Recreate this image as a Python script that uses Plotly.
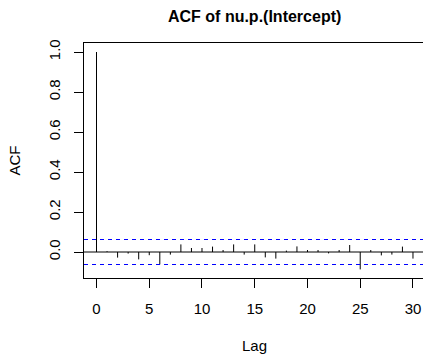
import plotly.graph_objects as go

lags = list(range(0, 31))
acf = [1.0, 0.004, -0.028, -0.008, -0.037, -0.016, -0.062, -0.013, 0.038, 0.02,
       0.02, 0.027, 0.01, 0.038, -0.013, 0.038, -0.027, -0.033, 0.007, 0.028,
       0.01, 0.01, -0.007, 0.01, 0.035, -0.087, 0.01, -0.017, -0.013, 0.027, -0.033]
ci = 0.0625
x_ticks = [0, 5, 10, 15, 20, 25, 30]
y_ticks = [0.0, 0.2, 0.4, 0.6, 0.8, 1.0]
y_ticktext = ["0.0", "0.2", "0.4", "0.6", "0.8", "1.0"]
title = "ACF of nu.p.(Intercept)"
xlab = "Lag"
ylab = "ACF"

FONT = "Liberation Sans, Arial, Helvetica, sans-serif"

xs, ys = [], []
for l, a in zip(lags, acf):
    xs += [l, l, None]
    ys += [0, a, None]

fig = go.Figure()
fig.add_trace(go.Scatter(x=xs, y=ys, mode="lines",
                         line=dict(color="black", width=1), hoverinfo="skip",
                         showlegend=False))

shapes = [
    dict(type="line", xref="paper", x0=0, x1=1, yref="y", y0=0, y1=0,
         line=dict(color="black", width=1)),
    dict(type="line", xref="paper", x0=0, x1=1, yref="y", y0=ci, y1=ci,
         line=dict(color="blue", width=1, dash="4px,4px")),
    dict(type="line", xref="paper", x0=0, x1=1, yref="y", y0=-ci, y1=-ci,
         line=dict(color="blue", width=1, dash="4px,4px")),
]

fig.update_layout(
    width=423, height=354,
    margin=dict(l=84, r=0, t=43, b=76),
    paper_bgcolor="white", plot_bgcolor="white",
    shapes=shapes,
    font=dict(family=FONT, color="black", size=15),
    xaxis=dict(range=[-1.185, 30.95], tickvals=x_ticks, ticks="outside",
               ticklen=9, tickcolor="black", showline=True, linecolor="black",
               linewidth=1, mirror=True, showgrid=False, zeroline=False,
               tickfont=dict(size=15), ticklabelstandoff=8, fixedrange=True),
    yaxis=dict(range=[-0.13, 1.045], tickvals=y_ticks, ticktext=y_ticktext,
               ticks="outside", ticklen=9, tickcolor="black", showline=True,
               linecolor="black", linewidth=1, mirror=False, showgrid=False,
               zeroline=False, tickangle=-90, tickfont=dict(size=15),
               ticklabelstandoff=8, fixedrange=True),
    annotations=[
        dict(text="<b>" + title + "</b>", xref="x", x=15, yref="paper",
             y=1, yshift=27, showarrow=False, font=dict(size=16),
             xanchor="center", yanchor="middle"),
        dict(text=xlab, xref="x", x=15, yref="paper", y=0, yshift=-67,
             showarrow=False, font=dict(size=15), xanchor="center",
             yanchor="middle"),
        dict(text=ylab, xref="paper", x=0, xshift=-70, yref="paper", y=0.5,
             showarrow=False, font=dict(size=15), textangle=-90,
             xanchor="center", yanchor="middle"),
    ],
)

fig.write_html("out.html")
